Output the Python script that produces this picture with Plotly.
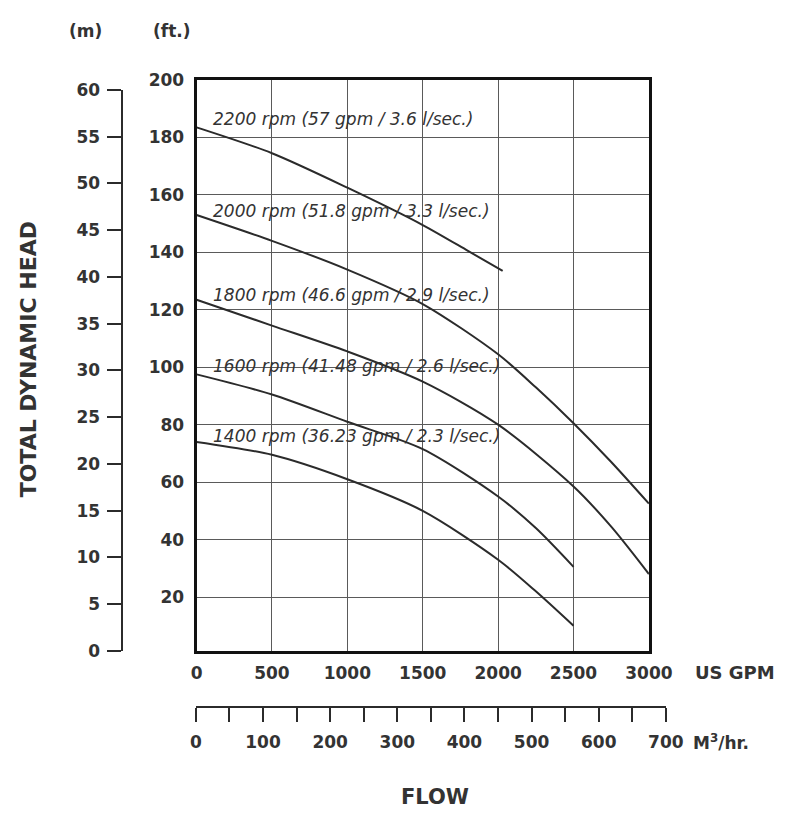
import plotly.graph_objects as go

# ---------------- data ----------------
flow_gpm_2200 = [0, 500, 1000, 1500, 1800, 2030]
head_ft_2200 = [183.5, 174.5, 162.5, 149.5, 140.5, 133.5]

flow_gpm_2000 = [0, 500, 1000, 1500, 2000, 2250, 2500, 2750, 3000]
head_ft_2000 = [153, 144, 134, 122, 104.5, 93, 80.5, 67, 52.5]

flow_gpm_1800 = [0, 500, 1000, 1500, 2000, 2500, 2750, 3000]
head_ft_1800 = [123.5, 114.5, 105.5, 95, 80, 58.5, 44.5, 28]

flow_gpm_1600 = [0, 500, 1000, 1500, 2000, 2250, 2500]
head_ft_1600 = [97.5, 90.5, 81, 71.5, 55, 44, 30.5]

flow_gpm_1400 = [0, 500, 1000, 1500, 2000, 2250, 2500]
head_ft_1400 = [74, 69.5, 61, 50, 33, 22, 10]

curve_labels = [
    "2200 rpm (57 gpm / 3.6 l/sec.)",
    "2000 rpm (51.8 gpm / 3.3 l/sec.)",
    "1800 rpm (46.6 gpm / 2.9 l/sec.)",
    "1600 rpm (41.48 gpm / 2.6 l/sec.)",
    "1400 rpm (36.23 gpm / 2.3 l/sec.)",
]

gpm_ticks = [0, 500, 1000, 1500, 2000, 2500, 3000]
ft_ticks = [20, 40, 60, 80, 100, 120, 140, 160, 180, 200]
m_ticks = [0, 5, 10, 15, 20, 25, 30, 35, 40, 45, 50, 55, 60]
m3hr_ticks = [0, 100, 200, 300, 400, 500, 600, 700]

# ---------------- layout geometry (pixels) ----------------
W, H = 799, 817
def px_x(p):
    return p / W
def px_y(p):
    return 1 - p / H

INK = "#2b2b2b"
TXT = "#333333"
GRID = "#5a5a5a"

fig = go.Figure()

series = [
    (flow_gpm_2200, head_ft_2200),
    (flow_gpm_2000, head_ft_2000),
    (flow_gpm_1800, head_ft_1800),
    (flow_gpm_1600, head_ft_1600),
    (flow_gpm_1400, head_ft_1400),
]
for (xs, ys), name in zip(series, curve_labels):
    fig.add_trace(go.Scatter(
        x=xs, y=ys, mode="lines", name=name,
        line=dict(color=INK, width=2, shape="spline", smoothing=0.8),
        showlegend=False, hoverinfo="skip",
    ))

# dummy trace to carry the metric axes
fig.add_trace(go.Scatter(x=[None], y=[None], xaxis="x2", yaxis="y2",
                         showlegend=False, hoverinfo="skip"))

tickfont = dict(family="DejaVu Sans", size=17, weight="bold", color=TXT)

fig.update_layout(
    width=W, height=H,
    margin=dict(l=0, r=0, t=0, b=0),
    paper_bgcolor="white", plot_bgcolor="rgba(0,0,0,0)",
    xaxis=dict(
        domain=[px_x(198), px_x(668)],
        range=[0, 3000],
        tickvals=gpm_ticks,
        ticktext=[str(v) for v in gpm_ticks],
        showgrid=True, gridcolor=GRID, gridwidth=1,
        showline=True, linecolor="#111111", linewidth=3, mirror=True,
        ticks="", ticklabelstandoff=5,
        tickfont=tickfont, zeroline=False,
        anchor="y",
    ),
    yaxis=dict(
        domain=[px_y(657), px_y(71.7)],
        range=[1.25, 200],
        tickvals=ft_ticks,
        ticktext=[str(v) for v in ft_ticks],
        showgrid=True, gridcolor=GRID, gridwidth=1,
        showline=True, linecolor="#111111", linewidth=3, mirror=True,
        ticks="", ticklabelstandoff=6,
        tickfont=tickfont, zeroline=False,
        anchor="x",
    ),
    yaxis2=dict(
        domain=[px_y(657), px_y(82)],
        range=[0, 60],
        tickvals=m_ticks,
        ticktext=[str(v) for v in m_ticks],
        showgrid=False, zeroline=False,
        showline=True, linecolor=INK, linewidth=2,
        ticks="outside", ticklen=14, tickwidth=2, tickcolor=INK,
        ticklabelstandoff=4,
        tickfont=tickfont,
        anchor="free", position=px_x(121), side="left",
    ),
    xaxis2=dict(
        domain=[px_x(197.3), px_x(685.6)],
        range=[0, 700],
        tickvals=m3hr_ticks,
        ticktext=[str(v) for v in m3hr_ticks],
        showgrid=False, zeroline=False,
        showline=True, linecolor=INK, linewidth=2,
        ticks="outside", ticklen=14, tickwidth=2, tickcolor=INK,
        minor=dict(dtick=50, tick0=0, ticks="outside", ticklen=14,
                   tickwidth=2, tickcolor=INK, showgrid=False),
        ticklabelstandoff=6,
        tickfont=tickfont,
        anchor="free", position=px_y(714), side="bottom",
    ),
)

# curve labels
label_y = [111.7, 206, 291.7, 365, 436.7]
for txt, yy in zip(curve_labels, label_y):
    fig.add_annotation(
        text=txt, xref="paper", yref="paper",
        x=px_x(213), y=px_y(yy), xanchor="left", yanchor="middle",
        showarrow=False,
        font=dict(family="DejaVu Sans", size=17, style="italic", color=TXT),
    )

boldfont = dict(family="DejaVu Sans", size=17, weight="bold", color=TXT)
fig.add_annotation(text="(m)", xref="paper", yref="paper", x=px_x(83), y=px_y(22),
                   xanchor="center", yanchor="middle", showarrow=False, font=boldfont)
fig.add_annotation(text="(ft.)", xref="paper", yref="paper", x=px_x(172), y=px_y(22),
                   xanchor="center", yanchor="middle", showarrow=False, font=boldfont)
fig.add_annotation(text="TOTAL DYNAMIC HEAD", xref="paper", yref="paper",
                   x=px_x(23), y=px_y(358), xanchor="center", yanchor="middle",
                   textangle=-90, showarrow=False,
                   font=dict(family="DejaVu Sans", size=22, weight="bold", color=TXT))
fig.add_annotation(text="FLOW", xref="paper", yref="paper",
                   x=px_x(446), y=px_y(807), xanchor="center", yanchor="middle",
                   showarrow=False,
                   font=dict(family="DejaVu Sans", size=21, weight="bold", color=TXT))
fig.add_annotation(text="US GPM", xref="paper", yref="paper",
                   x=px_x(714), y=px_y(679), xanchor="left", yanchor="middle",
                   showarrow=False,
                   font=dict(family="DejaVu Sans", size=18, weight="bold", color=TXT))
fig.add_annotation(text="M<sup>3</sup>/hr.", xref="paper", yref="paper",
                   x=px_x(712), y=px_y(750), xanchor="left", yanchor="middle",
                   showarrow=False, font=boldfont)

fig.write_html("out.html", config={"displayModeBar": False},
               post_script="document.body.style.margin='0';")
